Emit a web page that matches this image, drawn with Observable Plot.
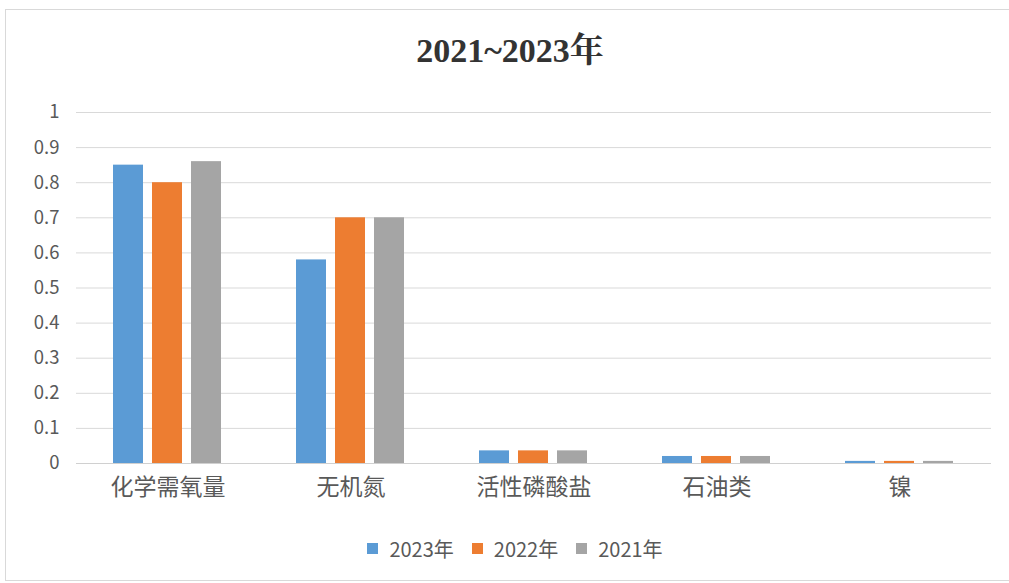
<!DOCTYPE html>
<html><head><meta charset="utf-8">
<script src="https://cdn.jsdelivr.net/npm/d3@7"></script>
<script src="https://cdn.jsdelivr.net/npm/@observablehq/plot@0.6"></script>
<style>
html,body{margin:0;padding:0;background:#fff;}
#wrap{position:relative;width:1009px;height:583px;overflow:hidden;}
#frame{position:absolute;left:5px;top:9px;width:1010px;height:572px;border:1px solid #d9d9d9;box-sizing:border-box;}
#title{position:absolute;left:0;top:10px;width:1020px;height:82px;line-height:82px;text-align:center;font-family:"Liberation Serif","Noto Serif CJK SC","Noto Sans CJK SC",serif;font-weight:bold;font-size:34px;color:#333;}
#chart{position:absolute;left:0;top:91px;}
#legend{position:absolute;left:0;top:535px;width:1030px;height:26px;display:flex;justify-content:center;align-items:center;font-family:"Noto Sans CJK SC","Liberation Sans",sans-serif;font-size:20px;color:#595959;}
.item{display:flex;align-items:center;margin:0 9px;}
.sw{width:11px;height:11px;margin-right:11px;}
</style></head>
<body><div id="wrap"><div id="frame"></div><div id="title">2021~2023年</div><div id="chart"></div><div id="legend"></div></div>
<script>
const categories = ["化学需氧量","无机氮","活性磷酸盐","石油类","镍"];
const series = ["2023年","2022年","2021年"];
const v2023 = [0.85,0.58,0.036,0.02,0.006];
const v2022 = [0.80,0.70,0.036,0.02,0.006];
const v2021 = [0.86,0.70,0.036,0.02,0.006];
const yTicks = [0,0.1,0.2,0.3,0.4,0.5,0.6,0.7,0.8,0.9,1];
const colors = ["#5b9bd5","#ed7d31","#a5a5a5"];

const seriesValues = [v2023, v2022, v2021];
const data = [];
categories.forEach((c,i)=>series.forEach((s,j)=>data.push({category:c, series:s, value:seriesValues[j][i]})));

const chart = Plot.plot({
  width:1009, height:424,
  marginLeft:75, marginRight:17, marginTop:21, marginBottom:52,
  style:{fontFamily:"'Noto Sans CJK SC','Liberation Sans',sans-serif", color:"#595959", background:"transparent"},
  fx:{domain:categories, paddingInner:0, paddingOuter:0, label:null, axis:"bottom", tickSize:0, tickPadding:15},
  x:{domain:series, axis:null, paddingInner:0.23, paddingOuter:0.96},
  y:{domain:[0,1], ticks:yTicks, tickFormat:d=>String(d), label:null, tickSize:0, tickPadding:17},
  color:{domain:series, range:colors},
  marks:[
    Plot.gridY(yTicks,{stroke:"#d9d9d9", strokeOpacity:1}),
    Plot.barY(data,{fx:"category", x:"series", y:"value", fill:"series"}),
    Plot.ruleY([0],{stroke:"#d0d0d0", strokeOpacity:1})
  ]
});
document.getElementById("chart").appendChild(chart);
d3.select(chart).selectAll("[aria-label='fx-axis tick label'] text").style("font-size","23px");
d3.select(chart).selectAll("[aria-label='y-axis tick label'] text").style("font-size","18.5px");

const lg = document.getElementById("legend");
series.forEach((s,i)=>{
  const it=document.createElement("div"); it.className="item";
  const sw=document.createElement("div"); sw.className="sw"; sw.style.background=colors[i];
  const t=document.createElement("span"); t.textContent=s;
  it.appendChild(sw); it.appendChild(t); lg.appendChild(it);
});
</script></body></html>
